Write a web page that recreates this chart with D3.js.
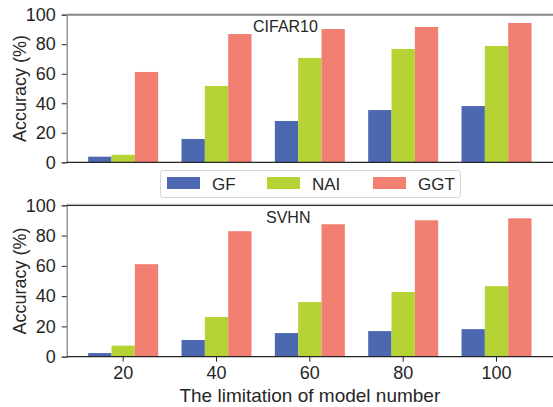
<!DOCTYPE html>
<html>
<head>
<meta charset="utf-8">
<script src="https://cdn.jsdelivr.net/npm/d3@7"></script>
<style>
  body { margin: 0; background: #fff; }
  svg text { font-family: "Liberation Sans", Arial, sans-serif; fill: #262626; }
</style>
</head>
<body>
<div id="chart"></div>
<script>
// data
const limits = ["20", "40", "60", "80", "100"];
const methods = ["GF", "NAI", "GGT"];
const colors = ["#4c68b0", "#b5d334", "#f28072"];

const cifarGF  = [3.8, 15.8, 28.0, 35.4, 38.1];
const cifarNAI = [5.1, 51.7, 70.7, 76.8, 78.8];
const cifarGGT = [61.2, 86.9, 90.3, 91.7, 94.4];

const svhnGF  = [2.4, 11.0, 15.6, 16.9, 18.2];
const svhnNAI = [7.3, 26.2, 36.1, 42.7, 46.6];
const svhnGGT = [61.1, 82.9, 87.5, 90.1, 91.4];

const yTicks = [0, 20, 40, 60, 80, 100];

const width = 553, height = 407;
const left = 66.7, right = 553;

const svg = d3.select("#chart").append("svg")
  .attr("width", width)
  .attr("height", height);

const x = d3.scaleBand()
  .domain(limits)
  .range([left, right])
  .paddingInner(0.25)
  .paddingOuter(0.23);

const xs = d3.scaleBand()
  .domain(methods)
  .range([0, x.bandwidth()]);

function panel(series, top, bottom, title, titleX, showX) {
  const y = d3.scaleLinear().domain([0, 100]).range([bottom, top]);
  const g = svg.append("g");

  // bars
  series.forEach((vals, i) => {
    g.selectAll(null)
      .data(vals)
      .join("rect")
      .attr("x", (d, j) => x(limits[j]) + xs(methods[i]))
      .attr("width", xs.bandwidth())
      .attr("y", d => y(d))
      .attr("height", d => y(0) - y(d))
      .attr("fill", colors[i]);
  });

  // y axis
  const ya = g.append("g")
    .attr("transform", `translate(${left},0)`)
    .call(d3.axisLeft(y).tickValues(yTicks).tickSize(5).tickPadding(6));
  ya.select(".domain").attr("stroke", "#888").attr("stroke-width", 1.3);
  ya.selectAll(".tick line").attr("stroke", "#262626");
  ya.selectAll("text").style("font-size", "18px").attr("fill", "#262626");

  // bottom spine
  g.append("line")
    .attr("x1", left).attr("x2", right)
    .attr("y1", bottom).attr("y2", bottom)
    .attr("stroke", "#262626").attr("stroke-width", 1.3);

  if (showX) {
    const xa = g.append("g")
      .attr("transform", `translate(0,${bottom})`)
      .call(d3.axisBottom(x).tickSize(5).tickPadding(5));
    xa.select(".domain").remove();
    xa.selectAll(".tick line").attr("stroke", "#262626");
    xa.selectAll("text").style("font-size", "18px").attr("fill", "#262626");
  }

  g.append("text")
    .attr("transform", `translate(26,${(top + bottom) / 2}) rotate(-90)`)
    .attr("text-anchor", "middle")
    .style("font-size", "18px")
    .text("Accuracy (%)");

  g.append("text")
    .attr("x", titleX)
    .attr("y", top + 17.5)
    .style("font-size", "16px")
    .text(title);

  return g;
}

// top panel
const topG = panel([cifarGF, cifarNAI, cifarGGT], 14.7, 162.3, "CIFAR10", 253, false);
topG.append("line")
  .attr("x1", left).attr("x2", right)
  .attr("y1", 14.7).attr("y2", 14.7)
  .attr("stroke", "#888").attr("stroke-width", 2);

// bottom panel
const botG = panel([svhnGF, svhnNAI, svhnGGT], 205.3, 356.7, "SVHN", 266, true);
botG.append("line")
  .attr("x1", left).attr("x2", right)
  .attr("y1", 204).attr("y2", 204)
  .attr("stroke", "#ddd").attr("stroke-width", 1);
botG.append("line")
  .attr("x1", left).attr("x2", right)
  .attr("y1", 205.3).attr("y2", 205.3)
  .attr("stroke", "#262626").attr("stroke-width", 1.3);

// x label
svg.append("text")
  .attr("x", (left + right) / 2)
  .attr("y", 402)
  .attr("text-anchor", "middle")
  .style("font-size", "19px")
  .text("The limitation of model number");

// legend
const legend = svg.append("g");
legend.append("rect")
  .attr("x", 160.5).attr("y", 170.5)
  .attr("width", 300).attr("height", 27)
  .attr("rx", 3)
  .attr("fill", "#fff")
  .attr("stroke", "#d5d5d5");

const legendX = [167, 267, 373];
methods.forEach((m, i) => {
  legend.append("rect")
    .attr("x", legendX[i]).attr("y", 177)
    .attr("width", 33).attr("height", 12)
    .attr("fill", colors[i]);
  legend.append("text")
    .attr("x", legendX[i] + 45).attr("y", 190)
    .style("font-size", "17px")
    .text(m);
});
</script>
</body>
</html>
